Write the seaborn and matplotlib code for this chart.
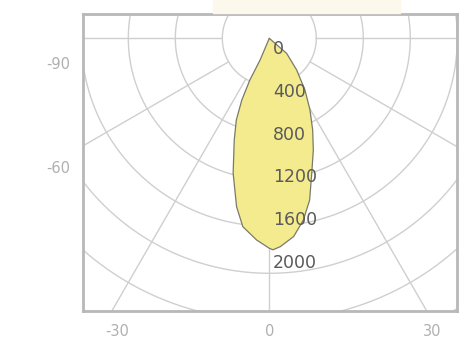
import numpy as np
import pandas as pd
import matplotlib
matplotlib.use("Agg")
import matplotlib.pyplot as plt
import seaborn as sns

# ---- data -------------------------------------------------------------
# luminous intensity curve (angle in degrees from nadir, intensity in cd)
lobe_angle = [0, -23, -25, -24, -22, -19, -15, -11, -8, -3.6, 0,
              1, 3, 7, 10.6, 14, 17.5, 21.5, 25.3, 29.6, 34.6, 40.8, 49, 0]
lobe_cd = [0, 201, 391, 575, 749, 917, 1189, 1460, 1619, 1720, 1787,
           1800, 1776, 1700, 1574, 1419, 1202, 1022, 864, 701, 534, 357, 196, 0]

ring_values = [400, 800, 1200, 1600, 2000, 2400, 2800]
ring_labels = ["0", "400", "800", "1200", "1600", "2000"]
spoke_angles = [-90, -60, -30, 0, 30, 60, 90]
xtick_labels = ["-30", "0", "30"]
ytick_labels = ["-90", "-60"]

# ---- style ------------------------------------------------------------
sns.set_style("white")
plt.rcParams["font.family"] = ["DejaVu Sans"]

W, H, DPI = 4.67, 3.41, 100
fig = plt.figure(figsize=(W, H), dpi=DPI)
ax = fig.add_axes([83 / 467, 1 - 311 / 341, 374 / 467, 297 / 341])

k = 400 / 47.0  # cd per pixel
cx, cy = 269.3, 38.3
ax.set_xlim((83 - cx) * k, (457 - cx) * k)
ax.set_ylim(-(311 - cy) * k, (cy - 14) * k)

grid_col = "#cfcfcf"
# rings
t = np.linspace(0, 2 * np.pi, 400)
for r in ring_values:
    ax.plot(r * np.cos(t), r * np.sin(t), color=grid_col, lw=1.0, zorder=1)
# spokes
for a in spoke_angles:
    th = np.deg2rad(a)
    r0, r1 = ring_values[0], 5000
    ax.plot([r0 * np.sin(th), r1 * np.sin(th)],
            [-r0 * np.cos(th), -r1 * np.cos(th)],
            color=grid_col, lw=1.0, zorder=1)

# lobe
th = np.deg2rad(np.array(lobe_angle))
I = np.array(lobe_cd, dtype=float)
df = pd.DataFrame({"x": I * np.sin(th), "y": -I * np.cos(th)})
ax.fill(df["x"], df["y"], color="#f3eb8e", zorder=2, lw=0)
sns.lineplot(data=df, x="x", y="y", sort=False, estimator=None,
             color="#7a7a6a", lw=0.9, ax=ax, zorder=3)

# ring labels
for i, lab in enumerate(ring_labels):
    v = float(lab)
    ax.text(31, -(91 + 0.91 * v), lab, ha="left", va="center",
            fontsize=12.5, color="#5a5a5a", zorder=4)

# ticks
ax.set_xticks([(117 - cx) * k, 0, (432 - cx) * k])
ax.set_xticklabels(xtick_labels)
ax.set_yticks([-(63 - cy) * k, -(167 - cy) * k])
ax.set_yticklabels(ytick_labels)
ax.tick_params(axis="both", length=0, labelsize=10.5, colors="#b0b0b0")
ax.tick_params(axis="x", pad=9)
ax.tick_params(axis="y", pad=9)
ax.set_xlabel("")
ax.set_ylabel("")

for s in ax.spines.values():
    s.set_color("#b8b8b8")
    s.set_linewidth(2.0)
    s.set_visible(True)

# faint cream band at top
fig.patches.append(matplotlib.patches.Rectangle(
    (213 / 467, 1 - 13 / 341), 187 / 467, 13 / 341,
    transform=fig.transFigure, color="#fcf9ec", zorder=0))

fig.savefig("out.png", dpi=DPI)
